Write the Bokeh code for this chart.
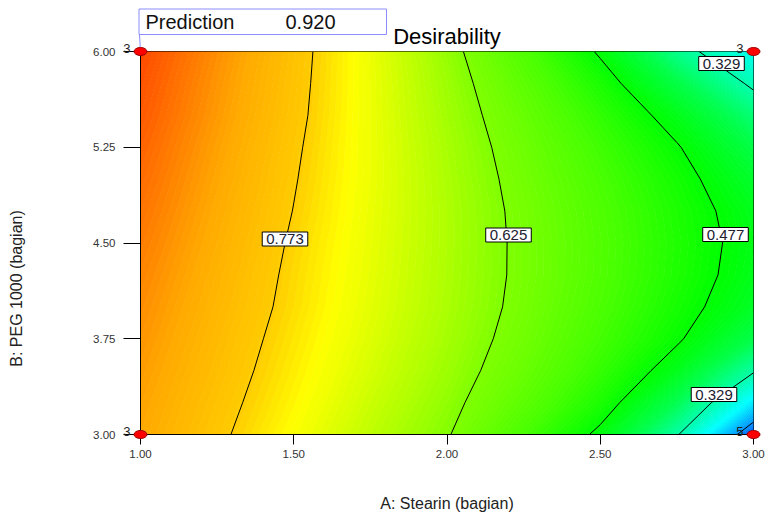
import colorsys
import numpy as np
from bokeh.plotting import figure
from bokeh.models import Label, FixedTicker, Range1d, NumeralTickFormatter
from bokeh.core.properties import value
from bokeh.embed import file_html
from bokeh.resources import INLINE

# ---------------- data ----------------
stearin = [1.00, 1.25, 1.50, 1.75, 2.00, 2.25, 2.50, 2.75, 3.00]      # A: Stearin (bagian)
peg = [3.00, 3.25, 3.50, 3.75, 4.00, 4.25, 4.50, 4.75, 5.00, 5.25, 5.50, 5.75, 6.00]  # B: PEG 1000
# desirability estimated on the grid, one row per PEG level
d_peg_3_00 = [0.830, 0.782, 0.732, 0.680, 0.629, 0.550, 0.465, 0.334, 0.140]
d_peg_3_25 = [0.836, 0.789, 0.741, 0.690, 0.640, 0.576, 0.504, 0.398, 0.245]
d_peg_3_50 = [0.843, 0.796, 0.748, 0.699, 0.650, 0.593, 0.528, 0.451, 0.335]
d_peg_3_75 = [0.850, 0.802, 0.754, 0.706, 0.657, 0.604, 0.544, 0.484, 0.405]
d_peg_4_00 = [0.857, 0.808, 0.760, 0.711, 0.662, 0.611, 0.554, 0.498, 0.440]
d_peg_4_25 = [0.864, 0.814, 0.763, 0.714, 0.664, 0.614, 0.560, 0.506, 0.452]
d_peg_4_50 = [0.872, 0.820, 0.767, 0.716, 0.665, 0.614, 0.561, 0.508, 0.456]
d_peg_4_75 = [0.880, 0.826, 0.772, 0.718, 0.665, 0.612, 0.558, 0.505, 0.450]
d_peg_5_00 = [0.888, 0.832, 0.776, 0.720, 0.663, 0.607, 0.551, 0.496, 0.434]
d_peg_5_25 = [0.896, 0.838, 0.780, 0.720, 0.660, 0.600, 0.540, 0.481, 0.408]
d_peg_5_50 = [0.905, 0.845, 0.785, 0.720, 0.655, 0.590, 0.524, 0.454, 0.370]
d_peg_5_75 = [0.912, 0.850, 0.788, 0.720, 0.650, 0.577, 0.502, 0.410, 0.318]
d_peg_6_00 = [0.920, 0.856, 0.791, 0.719, 0.643, 0.559, 0.470, 0.353, 0.270]
contour_levels = [0.181, 0.329, 0.477, 0.625, 0.773]
prediction = 0.920
pred_a, pred_b = 1.0, 6.0
design_a = [1.0, 1.0, 3.0, 3.0]
design_b = [6.0, 3.0, 6.0, 3.0]
design_reps = ["3", "3", "3", "5"]
a_ticks = [1.00, 1.50, 2.00, 2.50, 3.00]
b_ticks = [3.00, 3.75, 4.50, 5.25, 6.00]

z = np.array([d_peg_3_00, d_peg_3_25, d_peg_3_50, d_peg_3_75, d_peg_4_00, d_peg_4_25,
              d_peg_4_50, d_peg_4_75, d_peg_5_00, d_peg_5_25, d_peg_5_50, d_peg_5_75,
              d_peg_6_00])

# ---------------- layout geometry ----------------
W, H = 769, 519
FL, FR, FT, FB = 140, 753, 51, 434
XMIN, XMAX, YMIN, YMAX = 1.0, 3.0, 3.0, 6.0


def px_x(px):
    return XMIN + (px - FL) * (XMAX - XMIN) / (FR - FL)


def px_y(py):
    return YMIN + (FB - py) * (YMAX - YMIN) / (FB - FT)


FONT = "Liberation Sans"

# colour scale (blue -> cyan -> green -> yellow -> red)
hue_d = [0.05, 0.14, 0.181, 0.26, 0.329, 0.40, 0.477, 0.55, 0.625, 0.735, 0.773, 0.83, 0.92, 1.0]
hue_h = [235, 222, 205, 180, 160, 138, 120, 103, 90, 60, 48, 40, 17, 5]


def desir_color(d):
    h = float(np.interp(d, hue_d, hue_h))
    r, g, b = colorsys.hsv_to_rgb(h / 360.0, 1.0, 1.0)
    return "#%02x%02x%02x" % (round(r * 255), round(g * 255), round(b * 255))


fill_levels = [round(v, 4) for v in np.arange(0.10, 0.9301, 0.005)]
fill_colors = [desir_color((lo + hi) / 2) for lo, hi in zip(fill_levels[:-1], fill_levels[1:])]

p = figure(width=W, height=H, x_range=Range1d(XMIN, XMAX), y_range=Range1d(YMIN, YMAX),
           output_backend="svg", toolbar_location=None,
           min_border_left=FL, min_border_right=W - FR, min_border_top=FT, min_border_bottom=H - FB)
p.background_fill_color = "white"
p.border_fill_color = "white"
p.outline_line_color = "black"
p.outline_line_width = 1
p.xgrid.grid_line_color = None
p.ygrid.grid_line_color = None

# filled colour surface (drawn twice, stroked in own colour, to hide seams)
for _ in range(2):
    cf = p.contour(stearin, peg, z, levels=fill_levels, fill_color=fill_colors, line_color=None)
    g = cf.fill_renderer.glyph
    g.line_color = g.fill_color
    g.line_width = 1.5

cl = p.contour(stearin, peg, z, levels=contour_levels, line_color="black", line_width=1)

# title
p.title.text = "Desirability"
p.title.align = "center"
p.title.text_font = FONT
p.title.text_font_size = "22px"
p.title.text_font_style = "normal"
p.title.text_color = "black"
p.title.standoff = 5

# axes
p.xaxis.ticker = FixedTicker(ticks=a_ticks)
p.yaxis.ticker = FixedTicker(ticks=b_ticks)
p.xaxis.formatter = NumeralTickFormatter(format="0.00")
p.yaxis.formatter = NumeralTickFormatter(format="0.00")
for ax in (p.xaxis, p.yaxis):
    ax.major_tick_in = 0
    ax.minor_tick_in = 0
    ax.minor_tick_out = 0
    ax.major_tick_line_color = "black"
    ax.axis_line_color = "black"
    ax.major_label_text_font = FONT
    ax.major_label_text_font_size = "11.5px"
    ax.major_label_text_color = "#333333"
p.xaxis.major_tick_out = 10
p.yaxis.major_tick_out = 17
p.xaxis.major_label_standoff = 5
p.yaxis.major_label_standoff = 8
p.xaxis.axis_label = "A: Stearin (bagian)"
p.xaxis.axis_label_text_font = FONT
p.xaxis.axis_label_text_font_size = "16px"
p.xaxis.axis_label_text_font_style = "normal"
p.xaxis.axis_label_text_color = "#222222"
p.xaxis.axis_label_standoff = 34

# y axis title (drawn as unclipped text so it can sit at the far left like the reference)
p.text(x=[px_x(16)], y=[px_y(288)], text=["B: PEG 1000 (bagian)"], angle=np.pi / 2,
       text_align="center", text_baseline="middle", text_font=value(FONT),
       text_font_size=value("16px"), text_color="#222222", level="overlay")

# contour labels
label_px = {0.773: [(284.5, 238.5)], 0.625: [(508, 234.5)], 0.477: [(725, 234)],
            0.329: [(721, 63), (713.5, 394)]}
for lvl, spots in label_px.items():
    for (sx, sy) in spots:
        p.add_layout(Label(x=px_x(sx), y=px_y(sy), text=f"{lvl:.3f}", text_align="center",
                           text_baseline="middle", text_font=FONT, text_font_size="15px",
                           text_color="#202030", background_fill_color="white",
                           border_line_color="black", border_line_width=1,
                           padding=dict(left=4, right=4, top=2, bottom=2)))

# prediction flag
p.segment(x0=[px_x(139)], y0=[px_y(34)], x1=[pred_a], y1=[pred_b], line_color="#8c8cff",
          line_width=1, level="overlay")
p.quad(left=[px_x(138.5)], right=[px_x(386)], top=[px_y(8.5)], bottom=[px_y(34)],
       fill_color="white", line_color="#8c8cff", line_width=1, level="overlay")
p.text(x=[px_x(145)], y=[px_y(21)], text=["Prediction"], text_align="left",
       text_baseline="middle", text_font=value(FONT), text_font_size=value("20px"),
       text_color="#111111", level="overlay")
p.text(x=[px_x(285)], y=[px_y(21)], text=[f"{prediction:.3f}"], text_align="left",
       text_baseline="middle", text_font=value(FONT), text_font_size=value("20px"),
       text_color="#111111", level="overlay")

# design points
p.ellipse(x=design_a, y=design_b, width=13, height=8, width_units="screen",
          height_units="screen", fill_color="#ff0000", line_color="#a00000", line_width=1,
          level="overlay")
p.text(x=design_a, y=design_b, text=design_reps, text_align="right", text_baseline="middle",
       x_offset=-10, y_offset=-3, text_font=value(FONT), text_font_size=value("13px"),
       text_color="#222222", level="overlay")

open("out.html", "w").write(file_html(p, INLINE))
